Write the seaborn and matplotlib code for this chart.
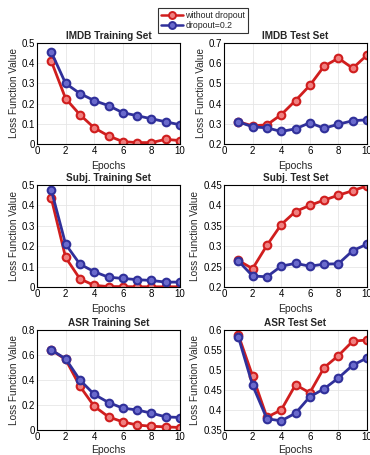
import numpy as np
import pandas as pd
import matplotlib
matplotlib.use("Agg")
import matplotlib.pyplot as plt
import seaborn as sns
from matplotlib.lines import Line2D

epochs = list(range(1, 11))

imdb_train_nodrop = [0.41, 0.225, 0.145, 0.08, 0.04, 0.012, 0.007, 0.007, 0.023, 0.017]
imdb_train_drop = [0.455, 0.30, 0.25, 0.215, 0.19, 0.155, 0.14, 0.125, 0.11, 0.095]
imdb_test_nodrop = [0.31, 0.29, 0.295, 0.345, 0.415, 0.49, 0.585, 0.625, 0.575, 0.64]
imdb_test_drop = [0.31, 0.285, 0.28, 0.262, 0.275, 0.305, 0.278, 0.298, 0.315, 0.32]
subj_train_nodrop = [0.435, 0.145, 0.04, 0.008, 0.002, 0.002, 0.001, 0.001, 0.001, 0.001]
subj_train_drop = [0.475, 0.21, 0.112, 0.075, 0.048, 0.042, 0.036, 0.032, 0.024, 0.024]
subj_test_nodrop = [0.265, 0.245, 0.302, 0.353, 0.385, 0.400, 0.413, 0.425, 0.436, 0.448]
subj_test_drop = [0.264, 0.227, 0.225, 0.251, 0.258, 0.251, 0.256, 0.257, 0.289, 0.305]
asr_train_nodrop = [0.64, 0.565, 0.35, 0.19, 0.105, 0.065, 0.04, 0.03, 0.025, 0.02]
asr_train_drop = [0.64, 0.57, 0.40, 0.285, 0.22, 0.175, 0.16, 0.135, 0.105, 0.10]
asr_test_nodrop = [0.588, 0.485, 0.382, 0.400, 0.463, 0.443, 0.506, 0.536, 0.572, 0.575]
asr_test_drop = [0.583, 0.462, 0.378, 0.373, 0.392, 0.433, 0.453, 0.480, 0.512, 0.530]

titles = ["IMDB Training Set", "IMDB Test Set", "Subj. Training Set",
          "Subj. Test Set", "ASR Training Set", "ASR Test Set"]
series = [(imdb_train_nodrop, imdb_train_drop), (imdb_test_nodrop, imdb_test_drop),
          (subj_train_nodrop, subj_train_drop), (subj_test_nodrop, subj_test_drop),
          (asr_train_nodrop, asr_train_drop), (asr_test_nodrop, asr_test_drop)]
ylims = [(0, 0.5), (0.2, 0.7), (0, 0.5), (0.2, 0.45), (0, 0.8), (0.35, 0.6)]
yticks = [[0, 0.1, 0.2, 0.3, 0.4, 0.5], [0.2, 0.3, 0.4, 0.5, 0.6, 0.7],
          [0, 0.1, 0.2, 0.3, 0.4, 0.5], [0.2, 0.25, 0.3, 0.35, 0.4, 0.45],
          [0, 0.2, 0.4, 0.6, 0.8], [0.35, 0.4, 0.45, 0.5, 0.55, 0.6]]
ylabels = [["0", "0.1", "0.2", "0.3", "0.4", "0.5"], ["0.2", "0.3", "0.4", "0.5", "0.6", "0.7"],
           ["0", "0.1", "0.2", "0.3", "0.4", "0.5"], ["0.2", "0.25", "0.3", "0.35", "0.4", "0.45"],
           ["0", "0.2", "0.4", "0.6", "0.8"], ["0.35", "0.4", "0.45", "0.5", "0.55", "0.6"]]
labels = ["without dropout", "dropout=0.2"]

sns.set_style("whitegrid")
plt.rcParams['font.family'] = ['Liberation Sans', 'DejaVu Sans']

RED = "#d01e1e"
BLUE = "#30309a"

fig = plt.figure(figsize=(3.7, 4.55), dpi=100)
W, H = 370, 455
lefts = [37, 224]
tops = [43, 185, 330]
bottoms = [144, 287, 430]

for i in range(6):
    r, c = divmod(i, 2)
    l = lefts[c]
    ax = fig.add_axes([l / W, (H - bottoms[r]) / H, 143 / W, (bottoms[r] - tops[r]) / H])
    nd, dr = series[i]
    df = pd.DataFrame({"Epochs": epochs * 2, "Loss": nd + dr,
                       "Model": [labels[0]] * 10 + [labels[1]] * 10})
    sns.lineplot(data=df, x="Epochs", y="Loss", hue="Model",
                 palette={labels[0]: RED, labels[1]: BLUE}, ax=ax, legend=False,
                 linewidth=2.0, marker="o", markersize=5.5, markeredgewidth=1.5)
    for ln, col, fc in zip(ax.lines, [RED, BLUE], ["#f08080", "#6a6acc"]):
        ln.set_markerfacecolor(fc)
        ln.set_markeredgecolor(col)
    ax.set_xlim(0, 10)
    ax.set_ylim(*ylims[i])
    ax.set_xticks([0, 2, 4, 6, 8, 10])
    ax.set_yticks(yticks[i])
    ax.set_yticklabels(ylabels[i])
    ax.tick_params(labelsize=7, length=2, pad=1.5, colors="black", direction="in")
    ax.set_xlabel("Epochs", fontsize=7.5, labelpad=(2.0 if r == 2 else 3.5))
    ax.set_ylabel("Loss Function Value", fontsize=7.2, labelpad=2)
    ax.set_title(titles[i], fontsize=7.2, fontweight="bold", pad=3)
    ax.grid(True, color="#e6e6e6", linewidth=0.6)
    for s in ax.spines.values():
        s.set_color("black")
        s.set_linewidth(0.8)

handles = [Line2D([], [], color=RED, marker="o", markersize=5, linewidth=1.8,
                  markerfacecolor="#f08080", markeredgecolor=RED, markeredgewidth=1.4),
           Line2D([], [], color=BLUE, marker="o", markersize=5, linewidth=1.8,
                  markerfacecolor="#6a6acc", markeredgecolor=BLUE, markeredgewidth=1.4)]
leg = fig.legend(handles, labels, loc="upper left", bbox_to_anchor=(158 / W, 1 - 8 / H),
                 fontsize=6.3, frameon=True, fancybox=False, edgecolor="black",
                 borderpad=0.3, labelspacing=0.2, handlelength=2.5, handletextpad=0.3,
                 borderaxespad=0)
leg.get_frame().set_linewidth(0.8)

fig.savefig("out.png", dpi=100)
